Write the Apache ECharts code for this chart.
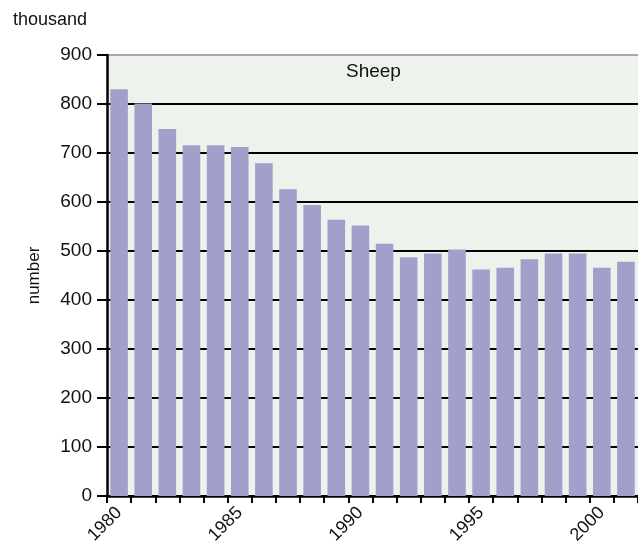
<!DOCTYPE html>
<html>
<head>
<meta charset="utf-8">
<script src="https://cdn.jsdelivr.net/npm/echarts@6/dist/echarts.min.js"></script>
<style>
html,body{margin:0;padding:0;background:#fff;}
#c{width:638px;height:547px;}
</style>
</head>
<body>
<div id="c"></div>
<script>
const years = ['1980','1981','1982','1983','1984','1985','1986','1987','1988','1989','1990','1991','1992','1993','1994','1995','1996','1997','1998','1999','2000','2001'];
const sheep = [830, 801, 749, 716, 716, 712, 679, 626, 594, 564, 552, 515, 487, 495, 503, 462, 466, 483, 495, 495, 466, 478];
const yTicks = [0, 100, 200, 300, 400, 500, 600, 700, 800, 900];
const unitLabel = 'thousand';
const axisName = 'number';
const panelTitle = 'Sheep';

const FONT = 'Liberation Sans, Arial, sans-serif';
const chart = echarts.init(document.getElementById('c'), null, {renderer: 'canvas'});
const gridColors = yTicks.map((v, i) => i === yTicks.length - 1 ? '#a9aba8' : '#000000');

chart.setOption({
  animation: false,
  backgroundColor: '#ffffff',
  title: {
    text: panelTitle,
    left: 346, top: 62, padding: 0,
    textStyle: {fontFamily: FONT, fontSize: 19, fontWeight: 'normal', color: '#111'}
  },
  graphic: [{
    type: 'text', left: 13, top: 11,
    style: {text: unitLabel, font: '18px ' + FONT, fill: '#111'}
  }],
  grid: {
    left: 107, top: 55, bottom: 51, right: -3,
    show: true, backgroundColor: '#eef2ec', borderWidth: 0
  },
  xAxis: {
    type: 'category',
    data: years,
    axisLine: {lineStyle: {color: '#000', width: 2.5}},
    axisTick: {show: true, interval: 0, length: 7, lineStyle: {color: '#000', width: 2}},
    axisLabel: {
      interval: 4, rotate: 45, margin: 14,
      fontFamily: FONT, fontSize: 18, color: '#111'
    },
    splitLine: {show: false}
  },
  yAxis: {
    type: 'value',
    min: 0, max: 900, interval: 100,
    name: axisName, nameLocation: 'middle', nameGap: 64, nameRotate: 90,
    nameTextStyle: {fontFamily: FONT, fontSize: 17, color: '#111'},
    axisLine: {show: true, lineStyle: {color: '#000', width: 2.5}},
    axisTick: {show: true, length: 10, lineStyle: {color: '#000', width: 2}},
    axisLabel: {margin: 15, fontFamily: FONT, fontSize: 19, color: '#111'},
    splitLine: {show: true, lineStyle: {color: gridColors, width: 2}}
  },
  series: [{
    type: 'bar',
    data: sheep,
    barCategoryGap: '27%',
    itemStyle: {color: '#a29fcb'}
  }]
});
</script>
</body>
</html>
